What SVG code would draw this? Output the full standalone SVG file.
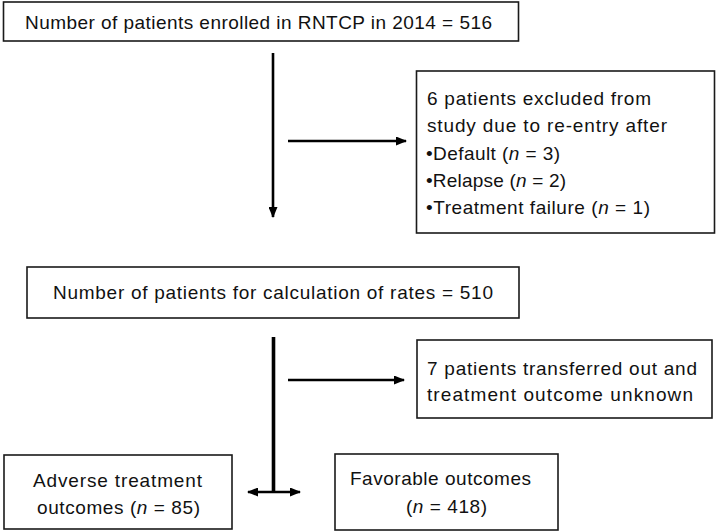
<svg xmlns="http://www.w3.org/2000/svg" width="719" height="532" viewBox="0 0 719 532">
<style>
.box{fill:#fff;stroke:#1a1a1a;stroke-width:1.6}
.t{font-family:"Liberation Sans",Arial,sans-serif;font-size:19px;fill:#111}
.c{stroke:#000;stroke-width:2.6;fill:none}
</style>
<defs>
<marker id="ah" markerUnits="userSpaceOnUse" markerWidth="11" markerHeight="9" refX="10" refY="4.5" orient="auto-start-reverse"><path d="M0,0 L11,4.5 L0,9 z" fill="#000"/></marker>
</defs>
<rect width="719" height="532" fill="#fff"/>
<g id="connectors">
<line class="c" x1="273" y1="53" x2="273" y2="217" marker-end="url(#ah)"/>
<line class="c" x1="288" y1="141" x2="406" y2="141" marker-end="url(#ah)"/>
<line class="c" x1="273.5" y1="337" x2="273.5" y2="492" style="stroke-width:3.6"/>
<line class="c" x1="288" y1="380" x2="404" y2="380" marker-end="url(#ah)"/>
<line class="c" x1="248" y1="492" x2="300" y2="492" marker-start="url(#ah)" marker-end="url(#ah)"/>
</g>
<g id="enrolled">
<rect class="box" x="3.5" y="2" width="515" height="39"/>
<text class="t" x="25" y="29" textLength="467">Number of patients enrolled in RNTCP in 2014 = 516</text>
</g>
<g id="excluded">
<rect class="box" x="416.5" y="71" width="298" height="162"/>
<text class="t" x="427" y="105" textLength="224">6 patients excluded from</text>
<text class="t" x="427" y="132" textLength="240">study due to re-entry after</text>
<text class="t" x="426" y="160" textLength="134">•Default (<tspan font-style="italic">n</tspan> = 3)</text>
<text class="t" x="426" y="187" textLength="140">•Relapse (<tspan font-style="italic">n</tspan> = 2)</text>
<text class="t" x="426" y="214" textLength="224">•Treatment failure (<tspan font-style="italic">n</tspan> = 1)</text>
</g>
<g id="calculation">
<rect class="box" x="27" y="267" width="492" height="51"/>
<text class="t" x="53" y="299" textLength="440">Number of patients for calculation of rates = 510</text>
</g>
<g id="transferred">
<rect class="box" x="417" y="340" width="295" height="78"/>
<text class="t" x="427" y="375" textLength="270">7 patients transferred out and</text>
<text class="t" x="427" y="401" textLength="266">treatment outcome unknown</text>
</g>
<g id="adverse">
<rect class="box" x="4" y="455" width="228" height="74"/>
<text class="t" x="33" y="487" textLength="169">Adverse treatment</text>
<text class="t" x="37" y="514" textLength="163">outcomes (<tspan font-style="italic">n</tspan> = 85)</text>
</g>
<g id="favorable">
<rect class="box" x="335" y="454" width="223" height="76"/>
<text class="t" x="350" y="485" textLength="181">Favorable outcomes</text>
<text class="t" x="406" y="513" textLength="81">(<tspan font-style="italic">n</tspan> = 418)</text>
</g>
</svg>
